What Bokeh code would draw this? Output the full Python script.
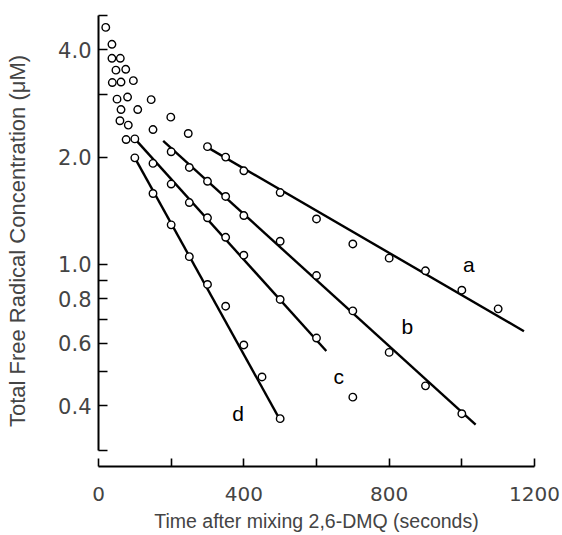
from bokeh.plotting import figure
from bokeh.models import Range1d, FixedTicker, CustomJSTickFormatter
from bokeh.core.properties import value
from bokeh.embed import file_html
from bokeh.resources import INLINE

# ---- data ----
early_t = [20, 37, 37, 60, 48, 75, 38, 62, 96, 51, 80, 145, 62, 108, 199, 59, 82, 150, 247, 76, 100]
early_c = [4.63, 4.15, 3.79, 3.79, 3.51, 3.53, 3.24, 3.25, 3.28, 2.91, 2.95, 2.90, 2.72, 2.72,
           2.59, 2.53, 2.46, 2.39, 2.33, 2.24, 2.25]

a_t = [300, 350, 400, 500, 600, 700, 800, 900, 1000, 1100]
a_c = [2.14, 2.00, 1.83, 1.59, 1.34, 1.14, 1.04, 0.958, 0.845, 0.749]
b_t = [200, 250, 300, 350, 400, 500, 600, 700, 800, 900, 1000]
b_c = [2.07, 1.87, 1.71, 1.55, 1.37, 1.16, 0.929, 0.739, 0.565, 0.455, 0.380]
c_t = [150, 200, 250, 300, 350, 400, 500, 600, 700]
c_c = [1.92, 1.68, 1.49, 1.35, 1.19, 1.06, 0.796, 0.62, 0.423]
d_t = [100, 150, 200, 250, 300, 350, 400, 450, 500]
d_c = [1.99, 1.58, 1.29, 1.05, 0.877, 0.762, 0.593, 0.482, 0.368]

# fitted lines (end points)
fit_a_t = [293, 1171]
fit_a_c = [2.15, 0.648]
fit_b_t = [178, 1038]
fit_b_c = [2.22, 0.354]
fit_c_t = [107, 627]
fit_c_c = [2.21, 0.570]
fit_d_t = [100, 503]
fit_d_c = [1.99, 0.360]

curve_names = ["a", "b", "c", "d"]
name_t = [1019, 850, 661, 384]
name_c = [1.0, 0.67, 0.482, 0.38]

x_ticks = [0, 200, 400, 600, 800, 1000, 1200]
y_ticks = [0.3, 0.4, 0.5, 0.6, 0.7, 0.8, 0.9, 1.0, 2.0, 3.0, 4.0, 5.0]

p = figure(width=560, height=535, y_axis_type="log",
           x_range=Range1d(0, 1200), y_range=Range1d(0.27, 5.0),
           output_backend="svg", toolbar_location=None,
           min_border_left=98, min_border_right=26, min_border_top=15, min_border_bottom=69)
p.outline_line_color = None
p.grid.visible = False
p.background_fill_color = "white"

for ft, fc in [(fit_a_t, fit_a_c), (fit_b_t, fit_b_c), (fit_c_t, fit_c_c), (fit_d_t, fit_d_c)]:
    p.line(ft, fc, line_color="black", line_width=2.4)

for tt, cc in [(early_t, early_c), (a_t, a_c), (b_t, b_c), (c_t, c_c), (d_t, d_c)]:
    p.scatter(tt, cc, marker="circle", size=7.5, fill_color="white",
              line_color="black", line_width=1.4)

p.text(x=name_t, y=name_c, text=curve_names, text_font=value("Liberation Sans"),
       text_font_size="21px", text_align="center", text_baseline="middle", text_color="black")

# x axis
xa = p.xaxis[0]
xa.ticker = FixedTicker(ticks=x_ticks)
xa.formatter = CustomJSTickFormatter(code="return (Math.round(tick) % 400 == 0) ? tick.toFixed(0) : '';")
xa.major_tick_in = 8
xa.major_tick_out = 0
xa.minor_tick_line_color = None
xa.axis_line_width = 2
xa.major_tick_line_width = 1.6
xa.major_label_text_font = "DejaVu Sans"
xa.major_label_text_font_size = "20px"
xa.major_label_standoff = 20
xa.axis_label = "Time after mixing 2,6-DMQ (seconds)"
xa.axis_label_text_font = "Liberation Sans"
xa.axis_label_text_font_size = "19.5px"
xa.axis_label_text_font_style = "normal"
xa.axis_label_standoff = 6

# y axis
ya = p.yaxis[0]
ya.ticker = FixedTicker(ticks=y_ticks)
ya.formatter = CustomJSTickFormatter(code="""
const m = [[0.4,'0.4'],[0.6,'0.6'],[0.8,'0.8'],[1,'1.0'],[2,'2.0'],[4,'4.0']];
for (const [v, s] of m) { if (Math.abs(tick - v) < 1e-6) return s; }
return '';""")
ya.bounds = (0.3, 5.0)
ya.major_tick_in = 9
ya.major_tick_out = 0
ya.minor_tick_line_color = None
ya.axis_line_width = 2
ya.major_tick_line_width = 1.6
ya.major_label_text_font = "DejaVu Sans"
ya.major_label_text_font_size = "21px"
ya.major_label_standoff = 7
ya.axis_label = "Total Free Radical Concentration (\u03bcM)"
ya.axis_label_text_font = "Liberation Sans"
ya.axis_label_text_font_size = "22px"
ya.axis_label_text_font_style = "normal"
ya.axis_label_standoff = 25

open("out.html", "w").write(file_html(p, INLINE))
